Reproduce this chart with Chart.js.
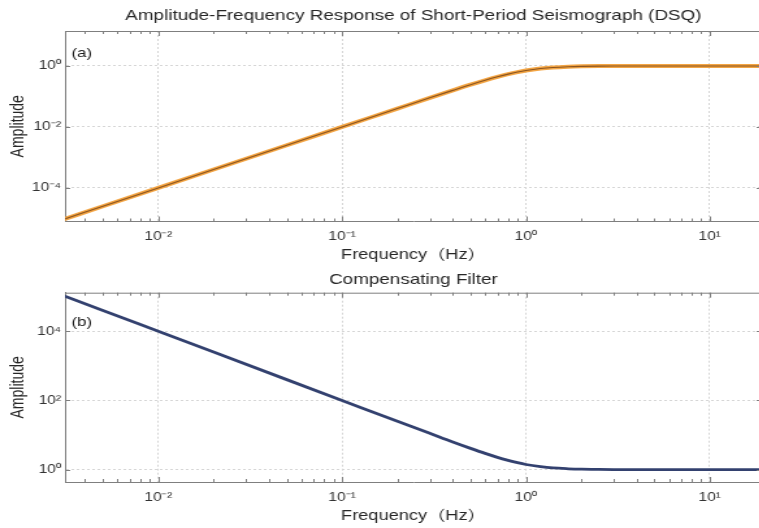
<!DOCTYPE html>
<html><head><meta charset="utf-8">
<script src="https://cdn.jsdelivr.net/npm/chart.js@4.4.1/dist/chart.umd.min.js"></script>
<style>
html,body{margin:0;padding:0;background:#fff;overflow:hidden;width:759px;height:528px;}
.wrap{position:absolute;left:0;width:586px;height:264px;transform:scaleX(1.3);transform-origin:0 0;}
#w1{top:0}
#w2{top:264px}
canvas{display:block}
</style></head><body>
<div class="wrap" id="w1"><canvas id="c1" width="586" height="264"></canvas></div>
<div class="wrap" id="w2"><canvas id="c2" width="586" height="264"></canvas></div>
<script>
// ---- data ----
const frequency = [0.003, 0.005, 0.01, 0.02, 0.05, 0.1, 0.2, 0.3, 0.4, 0.5, 0.6, 0.7, 0.8, 0.9, 1.0, 1.2, 1.4, 1.7, 2.0, 2.5, 3.0, 4.0, 6.0, 10.0, 20.0];
const seismographAmplitude = [9e-6, 2.5e-5, 1.0e-4, 4.0e-4, 2.5e-3, 0.01, 0.04, 0.09, 0.158, 0.243, 0.339, 0.44, 0.539, 0.629, 0.707, 0.821, 0.891, 0.945, 0.970, 0.988, 0.994, 0.998, 1.0, 1.0, 1.0];
const filterAmplitude = [1.1e5, 4.0e4, 1.0e4, 2500, 400, 100, 25, 11.2, 6.3, 4.12, 2.95, 2.27, 1.86, 1.59, 1.41, 1.22, 1.12, 1.06, 1.03, 1.013, 1.006, 1.002, 1.0, 1.0, 1.0];
const xTickValues = [0.01, 0.1, 1, 10];
const xMinorValues = [0.004,0.005,0.006,0.007,0.008,0.009, 0.02,0.03,0.04,0.05,0.06,0.07,0.08,0.09, 0.2,0.3,0.4,0.5,0.6,0.7,0.8,0.9, 2,3,4,5,6,7,8,9];
const yTickValuesTop = [1e-4, 1e-2, 1];
const yTickValuesBottom = [1, 1e2, 1e4];
const xRange = [0.00311, 19.2];
const yRangeTop = [7.9e-6, 14];
const yRangeBottom = [0.44, 1.3e5];
const titles = ['Amplitude-Frequency Response of Short-Period Seismograph (DSQ)', 'Compensating Filter'];
const xLabel = 'Frequency（Hz）';
const yLabel = 'Amplitude';
const panelLabels = ['(a)', '(b)'];

const FONT = '"Liberation Sans", Arial, "Noto Sans CJK SC", sans-serif';
const TEXT = '#262626';
const SUP = {'0':'⁰','1':'¹','2':'²','3':'³','4':'⁴','5':'⁵','6':'⁶','7':'⁷','8':'⁸','9':'⁹','-':'⁻'};
function fmtPow(v){
  const e = Math.round(Math.log10(v));
  return '10' + String(e).split('').map(c => SUP[c]).join('');
}

const decor = {
  id: 'decor',
  afterDraw(chart, args, opts) {
    const {ctx, chartArea: a, scales: {x, y}} = chart;
    ctx.save();
    ctx.strokeStyle = '#7f7f7f';
    ctx.lineWidth = 1;
    ctx.beginPath();
    ctx.moveTo(a.left, a.top + 0.5); ctx.lineTo(a.right, a.top + 0.5);
    ctx.moveTo(a.right - 0.5, a.top); ctx.lineTo(a.right - 0.5, a.bottom);
    xTickValues.forEach(v => {
      const px = Math.round(x.getPixelForValue(v)) + 0.5;
      ctx.moveTo(px, a.bottom); ctx.lineTo(px, a.bottom - 5);
      ctx.moveTo(px, a.top); ctx.lineTo(px, a.top + 5);
    });
    xMinorValues.forEach(v => {
      const px = Math.round(x.getPixelForValue(v)) + 0.5;
      if (px < a.left || px > a.right) return;
      ctx.moveTo(px, a.bottom); ctx.lineTo(px, a.bottom - 3);
      ctx.moveTo(px, a.top); ctx.lineTo(px, a.top + 3);
    });
    opts.yTicks.forEach(v => {
      const py = Math.round(y.getPixelForValue(v)) + 0.5;
      ctx.moveTo(a.left, py); ctx.lineTo(a.left + 4, py);
      ctx.moveTo(a.right, py); ctx.lineTo(a.right - 4, py);
    });
    ctx.stroke();
    ctx.fillStyle = '#1a1a1a';
    ctx.font = '13px ' + FONT;
    ctx.textBaseline = 'middle';
    ctx.textAlign = 'left';
    ctx.fillText(opts.label, a.left + 5, opts.labelY);
    ctx.restore();
  }
};

function makeChart(id, cfg) {
  const pts = cfg.values.map((v, i) => ({x: frequency[i], y: v}));
  const datasets = cfg.lines.map((l, i) => ({
    data: pts, borderColor: l.color, borderWidth: l.width, pointRadius: 0,
    cubicInterpolationMode: 'monotone', fill: false, order: l.order
  }));
  return new Chart(document.getElementById(id), {
    type: 'line',
    data: {datasets},
    options: {
      responsive: false, animation: false, devicePixelRatio: 1,
      layout: {padding: 0},
      plugins: {
        legend: {display: false}, tooltip: {enabled: false},
        title: {display: true, fullSize: false, text: cfg.title, color: TEXT,
          font: {family: FONT, size: 14.5, weight: 'normal'},
          padding: cfg.titlePad},
        decor: {label: cfg.label, labelY: cfg.labelY, yTicks: cfg.yTicks}
      },
      scales: {
        x: {
          type: 'logarithmic', min: xRange[0], max: xRange[1],
          afterBuildTicks: s => { s.ticks = xTickValues.map(v => ({value: v})); },
          afterFit: s => { s.height = cfg.xHeight; },
          ticks: {callback: v => fmtPow(v), color: '#333', font: {family: FONT, size: 12},
            padding: 8, maxRotation: 0, autoSkip: false},
          grid: {color: '#d6d6d6', drawTicks: false, lineWidth: 1},
          border: {display: true, color: '#7f7f7f', width: 1, dash: [2, 2]},
          title: {display: true, text: xLabel, color: TEXT, font: {family: FONT, size: 14},
            padding: {top: 0, bottom: cfg.xTitlePad}}
        },
        y: {
          type: 'logarithmic', min: cfg.yRange[0], max: cfg.yRange[1],
          afterBuildTicks: s => { s.ticks = cfg.yTicks.map(v => ({value: v})); },
          afterFit: s => { s.width = 50; },
          ticks: {callback: v => fmtPow(v), color: '#333', font: {family: FONT, size: 12},
            padding: 3, autoSkip: false},
          grid: {color: '#d6d6d6', drawTicks: false, lineWidth: 1},
          border: {display: true, color: '#7f7f7f', width: 1, dash: [2, 2]},
          title: {display: true, text: yLabel, color: TEXT, font: {family: FONT, size: 14},
            padding: {top: 5.4, bottom: 0}}
        }
      }
    },
    plugins: [decor]
  });
}

makeChart('c1', {
  values: seismographAmplitude,
  lines: [{color: 'rgba(242,160,58,0.95)', width: 4, order: 2}, {color: '#8a5420', width: 1.1, order: 1}],
  title: titles[0], titlePad: {top: 7, bottom: 6.6},
  label: panelLabels[0], labelY: 53,
  yRange: yRangeTop, yTicks: yTickValuesTop,
  xHeight: 42.5, xTitlePad: 0
});
makeChart('c2', {
  values: filterAmplitude,
  lines: [{color: '#33416f', width: 2.8, order: 1}],
  title: titles[1], titlePad: {top: 7.3, bottom: 4},
  label: panelLabels[1], labelY: 58,
  yRange: yRangeBottom, yTicks: yTickValuesBottom,
  xHeight: 46, xTitlePad: 3
});
</script>
</body></html>
